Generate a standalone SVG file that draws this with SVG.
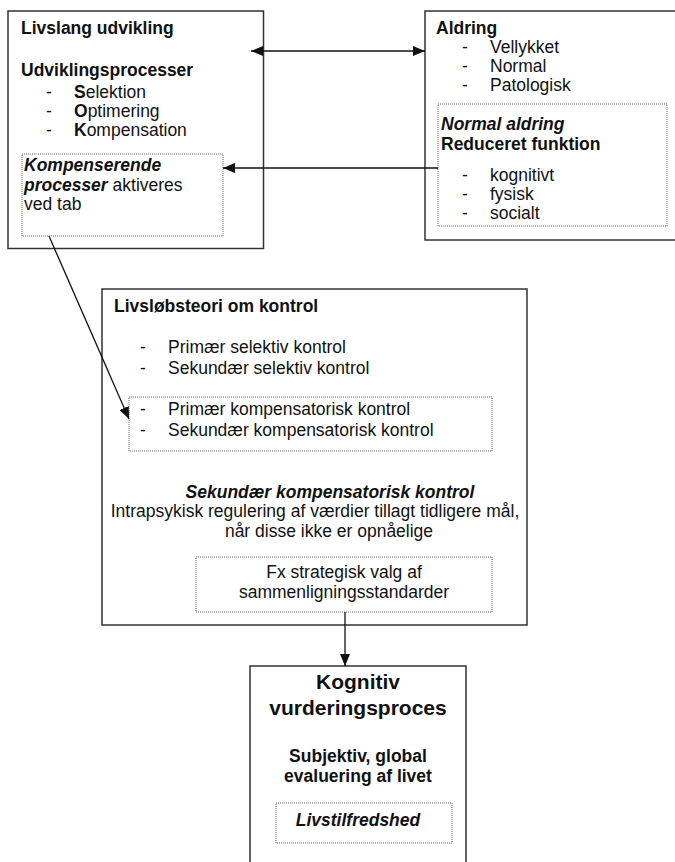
<svg xmlns="http://www.w3.org/2000/svg" width="675" height="862" viewBox="0 0 675 862">
<defs>
<style>
text{font-family:"Liberation Sans",Arial,sans-serif;font-size:17.5px;fill:#111}
.b{font-weight:bold}
.bi{font-weight:bold;font-style:italic}
.box{fill:#fff;stroke:#333;stroke-width:1.5}
.dot{fill:none;stroke:#666;stroke-width:1;stroke-dasharray:1 1}
.c{fill:none;stroke:#111;stroke-width:1.3}
.m{text-anchor:middle}
</style>
<marker id="ah" viewBox="0 0 12 10" refX="12" refY="5" markerWidth="12" markerHeight="10" markerUnits="userSpaceOnUse" orient="auto-start-reverse">
<path d="M0,0 L12,5 L0,10 Z" fill="#111"/>
</marker>
</defs>
<rect width="675" height="862" fill="#fff"/>

<g id="livslang">
<rect class="box" x="8" y="11" width="255.5" height="237.5"/>
<text class="b" x="21" y="34">Livslang udvikling</text>
<text class="b" x="21" y="76">Udviklingsprocesser</text>
<text x="46" y="98">-</text><text x="74" y="98"><tspan class="b">S</tspan>elektion</text>
<text x="46" y="117">-</text><text x="74" y="117"><tspan class="b">O</tspan>ptimering</text>
<text x="46" y="136">-</text><text x="74" y="136"><tspan class="b">K</tspan>ompensation</text>
<g id="kompenserende">
<rect class="dot" x="22" y="154" width="201" height="82"/>
<text class="bi" x="24" y="171">Kompenserende</text>
<text x="24" y="190.5"><tspan class="bi">processer</tspan> aktiveres</text>
<text x="24" y="210">ved tab</text>
</g>
</g>

<g id="aldring">
<rect class="box" x="425" y="11" width="255" height="229"/>
<text class="b" x="436" y="34">Aldring</text>
<text x="462" y="53">-</text><text x="490" y="53">Vellykket</text>
<text x="462" y="72">-</text><text x="490" y="72">Normal</text>
<text x="462" y="91">-</text><text x="490" y="91">Patologisk</text>
<g id="normal-aldring">
<rect class="dot" x="438" y="104" width="229" height="122"/>
<text class="bi" x="441" y="130">Normal aldring</text>
<text class="b" x="441" y="150">Reduceret funktion</text>
<text x="462" y="181">-</text><text x="490" y="181">kognitivt</text>
<text x="462" y="200">-</text><text x="490" y="200">fysisk</text>
<text x="462" y="219">-</text><text x="490" y="219">socialt</text>
</g>
</g>

<g id="kontrol">
<rect class="box" x="102" y="289" width="425" height="336"/>
<text class="b" x="114" y="312">Livsløbsteori om kontrol</text>
<text x="140" y="353">-</text><text x="168" y="353">Primær selektiv kontrol</text>
<text x="140" y="374">-</text><text x="168" y="374">Sekundær selektiv kontrol</text>
<g id="kompensatorisk">
<rect class="dot" x="129" y="397" width="363" height="54"/>
<text x="140" y="415">-</text><text x="168" y="415">Primær kompensatorisk kontrol</text>
<text x="140" y="436">-</text><text x="168" y="436">Sekundær kompensatorisk kontrol</text>
</g>
<text class="bi m" x="330" y="498">Sekundær kompensatorisk kontrol</text>
<text class="m" x="315" y="517">Intrapsykisk regulering af værdier tillagt tidligere mål,</text>
<text class="m" x="329" y="537">når disse ikke er opnåelige</text>
<g id="fx">
<rect class="dot" x="196" y="557" width="296" height="55"/>
<text class="m" x="344" y="578">Fx strategisk valg af</text>
<text class="m" x="344" y="598">sammenligningsstandarder</text>
</g>
</g>

<g id="kognitiv">
<rect class="box" x="250" y="666" width="216" height="210"/>
<text class="b m" x="358" y="689" style="font-size:21px">Kognitiv</text>
<text class="b m" x="358" y="715" style="font-size:21px">vurderingsproces</text>
<text class="b m" x="358" y="762">Subjektiv, global</text>
<text class="b m" x="358" y="782">evaluering af livet</text>
<g id="livstilfredshed">
<rect class="dot" x="276" y="803" width="176" height="40"/>
<text class="bi m" x="358" y="826">Livstilfredshed</text>
</g>
</g>

<g id="connectors">
<line class="c" x1="251" y1="51" x2="425" y2="51" marker-start="url(#ah)" marker-end="url(#ah)"/>
<line class="c" x1="438" y1="168" x2="223" y2="168" marker-end="url(#ah)"/>
<line class="c" x1="49" y1="236" x2="129" y2="419" marker-end="url(#ah)"/>
<line class="c" x1="345" y1="612" x2="345" y2="666" marker-end="url(#ah)"/>
</g>
</svg>
